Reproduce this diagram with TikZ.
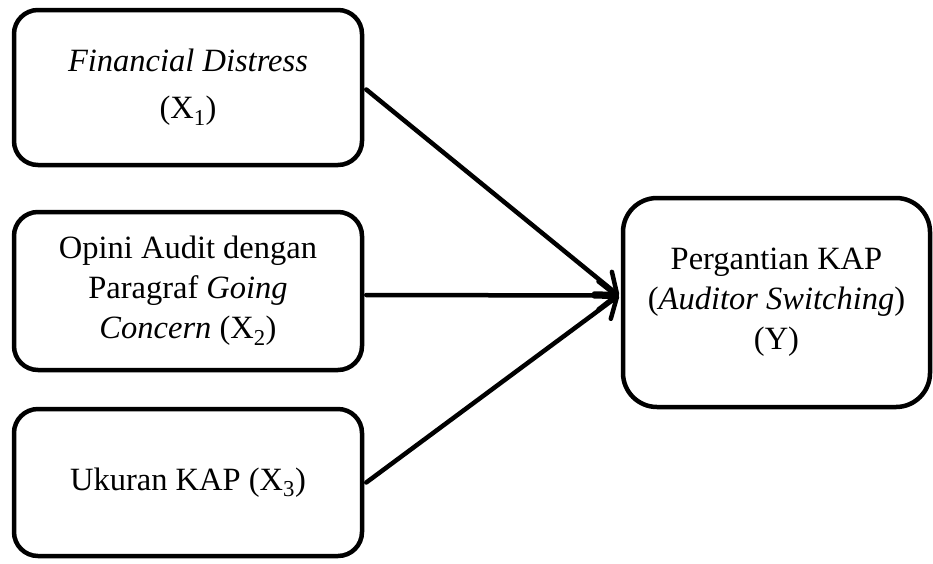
\documentclass[tikz,border=0pt]{standalone}
\usepackage{fontspec}
\setmainfont{LiberationSerif}[Extension=.ttf, UprightFont=*-Regular,
  ItalicFont=*-Italic, BoldFont=*-Bold, BoldItalicFont=*-BoldItalic]
\usetikzlibrary{arrows.meta,calc}
\tikzset{
  varbox/.style={draw=black, line width=4.5pt, rounded corners=24pt, align=center,
    inner sep=0pt, font=\fontsize{32.5}{40}\selectfont},
  link/.style={line width=4.5pt, line cap=round, line join=round,
    -{Straight Barb[length=18pt,width=28pt,line width=4.5pt,round]}}
}
\begin{document}
\begin{tikzpicture}[x=1pt,y=-1pt]
\useasboundingbox (0,0) rectangle (933,563);
\node[varbox, minimum width=348pt, minimum height=155pt] (x1) at (188,87.5)
  {\textit{Financial Distress}\\[7pt](X\textsubscript{1})};
\node[varbox, minimum width=348pt, minimum height=158pt] (x2) at (188,291)
  {Opini Audit dengan\\Paragraf \textit{Going}\\\textit{Concern} (X\textsubscript{2})};
\node[varbox, minimum width=348pt, minimum height=147pt] (x3) at (188,482.5)
  {Ukuran KAP (X\textsubscript{3})};
\node[varbox, rounded corners=34pt, minimum width=307pt, minimum height=209pt] (y) at (776.5,302.5)
  {Pergantian KAP\\(\textit{Auditor Switching})\\(Y)};
\coordinate (tip) at ($(y.west)+(-2,-7)$);
\draw[link] ($(x1.east)+(2,2)$) -- (tip);
\draw[link] ($(x2.east)+(2,4)$) -- (tip);
\draw[link] ($(x3.east)+(2,0)$) -- (tip);
\end{tikzpicture}
\end{document}
